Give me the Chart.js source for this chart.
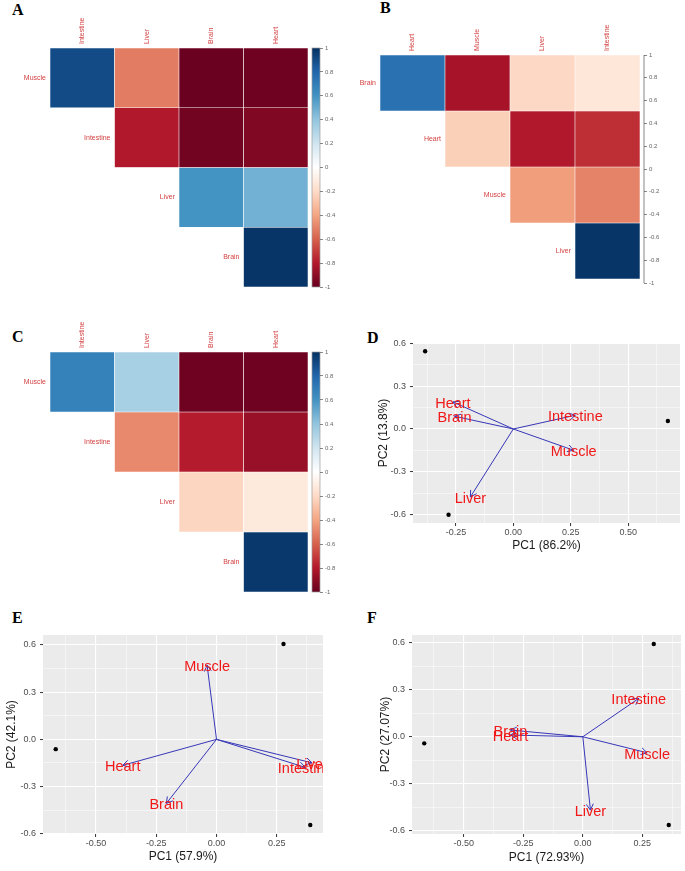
<!DOCTYPE html>
<html>
<head>
<meta charset="utf-8">
<script src="https://cdn.jsdelivr.net/npm/chart.js@4.4.0/dist/chart.umd.min.js"></script>
<style>
body { margin: 0; background: #fff; width: 685px; height: 871px; position: relative; overflow: hidden; }
canvas { position: absolute; }
.tag { position: absolute; font: bold 16px "Liberation Serif", "Times New Roman", serif; line-height: 1; color: #000; }
</style>
</head>
<body>
<div class="tag" style="left:12px;top:2px">A</div>
<div class="tag" style="left:380px;top:0px">B</div>
<div class="tag" style="left:12px;top:329px">C</div>
<div class="tag" style="left:367px;top:330px">D</div>
<div class="tag" style="left:12px;top:610px">E</div>
<div class="tag" style="left:367px;top:610px">F</div>

<canvas id="heatA" width="312" height="295" style="left:0;top:0"></canvas>
<canvas id="barA" width="35" height="256" style="left:305px;top:40px"></canvas>
<canvas id="heatB" width="302" height="290" style="left:340px;top:0"></canvas>
<canvas id="barB" width="35" height="243" style="left:637px;top:47px"></canvas>
<canvas id="heatC" width="312" height="300" style="left:0;top:300px"></canvas>
<canvas id="barC" width="35" height="256" style="left:305px;top:344px"></canvas>
<canvas id="pcaD" width="345" height="280" style="left:340px;top:300px"></canvas>
<canvas id="pcaE" width="340" height="291" style="left:0;top:580px"></canvas>
<canvas id="pcaF" width="345" height="291" style="left:340px;top:580px"></canvas>

<script>
// correlation panels (upper triangle, null = empty cell)
const rowsA = ["Muscle", "Intestine", "Liver", "Brain"];
const colsA = ["Intestine", "Liver", "Brain", "Heart"];
const corA = [
    [0.9, -0.52, -0.99, -0.98],
    [null, -0.8, -0.97, -0.93],
    [null, null, 0.6, 0.48],
    [null, null, null, 0.98]
];

const rowsB = ["Brain", "Heart", "Muscle", "Liver"];
const colsB = ["Heart", "Muscle", "Liver", "Intestine"];
const corB = [
    [0.75, -0.83, -0.21, -0.14],
    [null, -0.24, -0.8, -0.74],
    [null, null, -0.42, -0.5],
    [null, null, null, 0.98]
];

const rowsC = ["Muscle", "Intestine", "Liver", "Brain"];
const colsC = ["Intestine", "Liver", "Brain", "Heart"];
const corC = [
    [0.68, 0.33, -0.98, -0.98],
    [null, -0.48, -0.79, -0.87],
    [null, null, -0.22, -0.12],
    [null, null, null, 0.97]
];

const barTicks = [-1, -0.8, -0.6, -0.4, -0.2, 0, 0.2, 0.4, 0.6, 0.8, 1];

// PCA biplots
const pcTicksX = [-0.5, -0.25, 0, 0.25, 0.5];
const pcTicksY = [-0.6, -0.3, 0, 0.3, 0.6];

const varsD = ["Heart", "Brain", "Intestine", "Muscle", "Liver"];
const loadDx = [-0.263, -0.256, 0.27, 0.263, -0.187];
const loadDy = [0.189, 0.089, 0.096, -0.149, -0.475];
const scoreDx = [-0.384, -0.282, 0.673];
const scoreDy = [0.544, -0.6, 0.056];
const titlesD = ["PC1 (86.2%)", "PC2 (13.8%)"];

const varsE = ["Muscle", "Heart", "Brain", "Liver", "Intestine"];
const loadEx = [-0.039, -0.389, -0.208, 0.396, 0.368];
const loadEy = [0.472, -0.165, -0.407, -0.149, -0.178];
const scoreEx = [-0.667, 0.278, 0.389];
const scoreEy = [-0.062, 0.606, -0.544];
const titlesE = ["PC1 (57.9%)", "PC2 (42.1%)"];

const varsF = ["Intestine", "Muscle", "Liver", "Brain", "Heart"];
const loadFx = [0.235, 0.27, 0.032, -0.304, -0.304];
const loadFy = [0.245, -0.102, -0.468, 0.043, 0.011];
const scoreFx = [-0.666, 0.298, 0.361];
const scoreFy = [-0.042, 0.592, -0.563];
const titlesF = ["PC1 (72.93%)", "PC2 (27.07%)"];

Chart.defaults.font.family = '"Liberation Sans", Arial, sans-serif';

const palette = ["#67001F", "#B2182B", "#D6604D", "#F4A582", "#FDDBC7", "#FFFFFF",
    "#D1E5F0", "#92C5DE", "#4393C3", "#2166AC", "#053061"];
const labelRed = "#d43f3f";
const arrowBlue = "#3737b8";

function hexRgb(h) {
    return [1, 3, 5].map(i => parseInt(h.slice(i, i + 2), 16));
}

function corColor(v) {
    const t = (v + 1) / 2 * (palette.length - 1);
    const i = Math.min(Math.floor(t), palette.length - 2);
    const f = t - i;
    const a = hexRgb(palette[i]), b = hexRgb(palette[i + 1]);
    return "rgb(" + a.map((c, k) => Math.round(c + (b[k] - c) * f)).join(",") + ")";
}

// row labels left of each row, column labels rotated on top
const corrLabels = {
    id: "corrLabels",
    afterDraw(chart, args, opts) {
        const { ctx, scales: { x, y } } = chart;
        const half = (x.getPixelForValue(1) - x.getPixelForValue(0)) / 2;
        ctx.save();
        ctx.font = '7px "Liberation Sans", Arial, sans-serif';
        ctx.fillStyle = labelRed;
        ctx.textAlign = "right";
        ctx.textBaseline = "middle";
        opts.rows.forEach((r, i) => {
            ctx.fillText(r, x.getPixelForValue(i) - half - 4, y.getPixelForValue(i + 0.5));
        });
        ctx.textAlign = "left";
        opts.cols.forEach((c, j) => {
            ctx.save();
            ctx.translate(x.getPixelForValue(j), chart.chartArea.top - 4);
            ctx.rotate(-Math.PI / 2);
            ctx.fillText(c, 0, 0);
            ctx.restore();
        });
        ctx.restore();
    }
};

function heatmap(id, rows, cols, cor, pad) {
    new Chart(document.getElementById(id), {
        type: "bar",
        data: {
            labels: cols,
            datasets: rows.map((r, i) => ({
                label: r,
                data: cor[i].map(v => v === null ? null : [i, i + 1]),
                backgroundColor: cor[i].map(v => v === null ? "rgba(0,0,0,0)" : corColor(v)),
                borderColor: "rgba(255,255,255,0.7)",
                borderWidth: 0.6,
                borderSkipped: false,
                barPercentage: 1,
                categoryPercentage: 1,
                grouped: false
            }))
        },
        options: {
            responsive: false,
            animation: false,
            layout: { padding: pad },
            plugins: {
                legend: { display: false },
                tooltip: { enabled: false },
                corrLabels: { rows: rows, cols: cols }
            },
            scales: {
                x: { display: false },
                y: { display: false, min: 0, max: rows.length, reverse: true }
            }
        },
        plugins: [corrLabels]
    });
}

const colorBar = {
    id: "colorBar",
    beforeDraw(chart) {
        const { ctx, chartArea: a } = chart;
        const g = ctx.createLinearGradient(0, a.bottom, 0, a.top);
        palette.forEach((c, i) => g.addColorStop(i / (palette.length - 1), c));
        ctx.save();
        ctx.fillStyle = g;
        ctx.fillRect(a.left, a.top, a.width, a.height);
        ctx.strokeStyle = "#9a9a9a";
        ctx.lineWidth = 0.7;
        ctx.strokeRect(a.left, a.top, a.width, a.height);
        ctx.restore();
    }
};

function colorbar(id, pad) {
    new Chart(document.getElementById(id), {
        type: "scatter",
        data: { datasets: [] },
        options: {
            responsive: false,
            animation: false,
            layout: { padding: pad },
            plugins: { legend: { display: false }, tooltip: { enabled: false } },
            scales: {
                x: { display: false, min: 0, max: 1 },
                y: {
                    position: "right",
                    min: -1,
                    max: 1,
                    afterBuildTicks: s => { s.ticks = barTicks.map(v => ({ value: v })); },
                    afterFit: s => { s.width = 20; },
                    ticks: {
                        font: { size: 6 },
                        color: "#666",
                        padding: 2,
                        callback: v => String(+v.toFixed(1))
                    },
                    grid: { drawOnChartArea: false, tickLength: 3, tickColor: "#555", tickWidth: 0.7 },
                    border: { display: false }
                }
            }
        },
        plugins: [colorBar]
    });
}

heatmap("heatA", rowsA, colsA, corA, { left: 50, top: 48, right: 4, bottom: 8 });
colorbar("barA", { left: 7, top: 8, right: 0, bottom: 9 });
heatmap("heatB", rowsB, colsB, corB, { left: 40, top: 55, right: 2, bottom: 11 });
colorbar("barB", { left: 7, top: 8, right: 8, bottom: 7 });
heatmap("heatC", rowsC, colsC, corC, { left: 50, top: 52, right: 4, bottom: 8 });
colorbar("barC", { left: 7, top: 8, right: 0, bottom: 8 });

// ggplot-like panel: grey background, arrows with open heads, red labels
const pcaDecor = {
    id: "pcaDecor",
    beforeDraw(chart) {
        const { ctx, chartArea: a } = chart;
        ctx.save();
        ctx.fillStyle = "#ebebeb";
        ctx.fillRect(a.left, a.top, a.width, a.height);
        ctx.restore();
    },
    afterDatasetsDraw(chart, args, opts) {
        const { ctx, chartArea: a, scales: { x, y } } = chart;
        ctx.save();
        ctx.beginPath();
        ctx.rect(a.left, a.top, a.width, a.height);
        ctx.clip();
        const x0 = x.getPixelForValue(0), y0 = y.getPixelForValue(0);
        ctx.strokeStyle = arrowBlue;
        ctx.lineWidth = 1;
        opts.names.forEach((n, i) => {
            const px = x.getPixelForValue(opts.lx[i]), py = y.getPixelForValue(opts.ly[i]);
            const ang = Math.atan2(py - y0, px - x0);
            ctx.beginPath();
            ctx.moveTo(px + 7 * Math.cos(ang + Math.PI * 5 / 6), py + 7 * Math.sin(ang + Math.PI * 5 / 6));
            ctx.lineTo(px, py);
            ctx.lineTo(px + 7 * Math.cos(ang - Math.PI * 5 / 6), py + 7 * Math.sin(ang - Math.PI * 5 / 6));
            ctx.stroke();
        });
        ctx.font = '14.5px "Liberation Sans", Arial, sans-serif';
        ctx.fillStyle = "#f01818";
        ctx.textAlign = "center";
        ctx.textBaseline = "middle";
        opts.names.forEach((n, i) => {
            ctx.fillText(n, x.getPixelForValue(opts.lx[i]), y.getPixelForValue(opts.ly[i]) + 2);
        });
        ctx.restore();
    }
};

function expand(vals) {
    const lo = Math.min(...vals), hi = Math.max(...vals), d = (hi - lo) * 0.05;
    return [lo - d, hi + d];
}

function pcaScale(majors, range, digits, title, size, horizontal, tickPad) {
    const step = majors[1] - majors[0];
    const all = majors.concat(majors.map(v => v + step / 2), [majors[0] - step / 2])
        .filter(v => v >= range[0] && v <= range[1])
        .sort((a, b) => a - b);
    const isMajor = v => majors.some(m => Math.abs(m - v) < 1e-9);
    return {
        type: "linear",
        min: range[0],
        max: range[1],
        afterBuildTicks: s => { s.ticks = all.map(v => ({ value: v })); },
        afterFit: s => { if (horizontal) s.height = size; else s.width = size; },
        ticks: {
            autoSkip: false,
            maxRotation: 0,
            padding: tickPad,
            color: "#4d4d4d",
            font: { size: 9 },
            callback: v => isMajor(v) ? v.toFixed(digits) : ""
        },
        grid: {
            color: "#ffffff",
            lineWidth: c => c.tick && isMajor(c.tick.value) ? 1.1 : 0.5,
            tickColor: c => c.tick && isMajor(c.tick.value) ? "#333" : "rgba(0,0,0,0)",
            tickWidth: 1,
            tickLength: 3
        },
        border: { display: false },
        title: { display: true, text: title, color: "#1a1a1a", font: { size: 12 }, padding: { top: 4, bottom: 4 } }
    };
}

function pca(id, names, lx, ly, sx, sy, titles, lay) {
    const xr = expand(sx), yr = expand(sy);
    new Chart(document.getElementById(id), {
        type: "scatter",
        data: {
            datasets: [{
                data: sx.map((v, i) => ({ x: v, y: sy[i] })),
                pointRadius: 2.2,
                pointBackgroundColor: "#000",
                pointBorderWidth: 0
            }].concat(names.map((n, i) => ({
                label: n,
                data: [{ x: 0, y: 0 }, { x: lx[i], y: ly[i] }],
                showLine: true,
                pointRadius: 0,
                borderColor: arrowBlue,
                borderWidth: 1
            })))
        },
        options: {
            responsive: false,
            animation: false,
            layout: { padding: lay.pad },
            plugins: {
                legend: { display: false },
                tooltip: { enabled: false },
                pcaDecor: { names: names, lx: lx, ly: ly }
            },
            scales: {
                x: pcaScale(pcTicksX, xr, 2, titles[0], lay.xh, true, 1),
                y: pcaScale(pcTicksY, yr, 1, titles[1], lay.yw, false, 4)
            }
        },
        plugins: [pcaDecor]
    });
}

pca("pcaD", varsD, loadDx, loadDy, scoreDx, scoreDy, titlesD,
    { pad: { left: 32, top: 43, right: 5, bottom: 23 }, yw: 41, xh: 34 });
pca("pcaE", varsE, loadEx, loadEy, scoreEx, scoreEy, titlesE,
    { pad: { left: 0, top: 55, right: 17, bottom: 3 }, yw: 43, xh: 34 });
pca("pcaF", varsF, loadFx, loadFy, scoreFx, scoreFy, titlesF,
    { pad: { left: 34, top: 55, right: 4, bottom: 2 }, yw: 38, xh: 35 });
</script>
</body>
</html>
